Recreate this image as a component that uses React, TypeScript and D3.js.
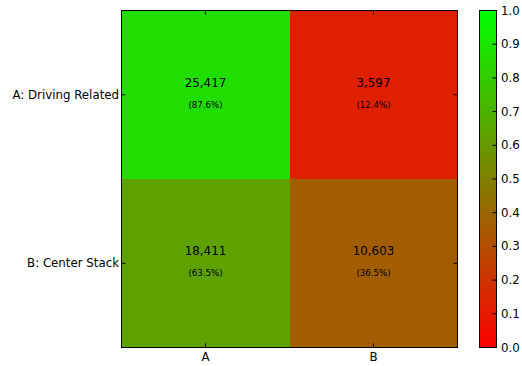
import React from "react";
import * as d3 from "d3";

// Confusion-matrix style heatmap with a red→green colorbar
const rowLabels = ["A: Driving Related", "B: Center Stack"];
const colLabels = ["A", "B"];
const countsRowA = [25417, 3597];
const countsRowB = [18411, 10603];
const counts = [countsRowA, countsRowB];
const colorbarTicks = [0, 0.1, 0.2, 0.3, 0.4, 0.5, 0.6, 0.7, 0.8, 0.9, 1.0];

const W = 522;
const H = 366;
const plot = { left: 121.5, top: 10.5, right: 457.5, bottom: 347.5 };
const cbar = { left: 479.5, right: 496.5, top: 10.5, bottom: 347.5 };
const FONT = "DejaVu Sans, sans-serif";
const TICK = 4;

export default function App() {
  const x = d3.scaleBand<string>().domain(colLabels).range([plot.left, plot.right]);
  const y = d3.scaleBand<string>().domain(rowLabels).range([plot.top, plot.bottom]);
  const color = d3.scaleLinear<string>().domain([0, 1]).range(["#ff0000", "#00ff00"]).interpolate(d3.interpolateRgb);
  const cy = d3.scaleLinear().domain([0, 1]).range([cbar.bottom, cbar.top]);
  const fmt = d3.format(",");
  const pct = d3.format(".1%");

  const cells = counts.flatMap((row, i) => {
    const total = d3.sum(row);
    return row.map((v, j) => ({ r: rowLabels[i], c: colLabels[j], v, frac: v / total }));
  });

  const gradStops = d3.range(0, 1.0001, 0.05);

  return (
    <svg width={W} height={H} style={{ position: "absolute", left: 0, top: 0 }} fontFamily={FONT}>
      <defs>
        <linearGradient id="cb" x1="0" y1="1" x2="0" y2="0">
          {gradStops.map((s) => (
            <stop key={s} offset={s} stopColor={color(s)} />
          ))}
        </linearGradient>
      </defs>
      <rect width={W} height={H} fill="#fff" />

      {cells.map((d) => {
        const x0 = x(d.c)!;
        const y0 = y(d.r)!;
        const cx = x0 + x.bandwidth() / 2;
        const cyy = y0 + y.bandwidth() / 2;
        return (
          <g key={d.r + d.c}>
            <rect
              x={x0}
              y={y0}
              width={x.bandwidth()}
              height={y.bandwidth()}
              fill={color(d.frac)}
              shapeRendering="crispEdges"
            />
            <text x={cx} y={cyy - 8} textAnchor="middle" fontSize={11.8} fill="#000">
              {fmt(d.v)}
            </text>
            <text x={cx} y={cyy + 13} textAnchor="middle" fontSize={8.6} fill="#000">
              ({pct(d.frac)})
            </text>
          </g>
        );
      })}

      {/* ticks, drawn inward */}
      {colLabels.map((c) => {
        const tx = x(c)! + x.bandwidth() / 2;
        return (
          <g key={c}>
            <line x1={tx} x2={tx} y1={plot.bottom} y2={plot.bottom - TICK} stroke="#000" />
            <line x1={tx} x2={tx} y1={plot.top} y2={plot.top + TICK} stroke="#000" />
            <text x={tx} y={360.5} textAnchor="middle" fontSize={11.8} fill="#000">
              {c}
            </text>
          </g>
        );
      })}
      {rowLabels.map((r) => {
        const ty = y(r)! + y.bandwidth() / 2;
        return (
          <g key={r}>
            <line x1={plot.left} x2={plot.left + TICK} y1={ty} y2={ty} stroke="#000" />
            <line x1={plot.right} x2={plot.right - TICK} y1={ty} y2={ty} stroke="#000" />
            <text x={119} y={ty} textAnchor="end" dominantBaseline="central" fontSize={11.8} fill="#000">
              {r}
            </text>
          </g>
        );
      })}
      <rect
        x={plot.left}
        y={plot.top}
        width={plot.right - plot.left}
        height={plot.bottom - plot.top}
        fill="none"
        stroke="#000"
      />

      {/* colorbar */}
      <rect
        x={cbar.left}
        y={cbar.top}
        width={cbar.right - cbar.left}
        height={cbar.bottom - cbar.top}
        fill="url(#cb)"
        stroke="#000"
      />
      {colorbarTicks.map((t) => (
        <g key={t}>
          <line x1={cbar.right} x2={cbar.right - TICK} y1={cy(t)} y2={cy(t)} stroke="#000" />
          <text x={501} y={cy(t)} dominantBaseline="central" fontSize={11.8} fill="#000">
            {d3.format(".1f")(t)}
          </text>
        </g>
      ))}
    </svg>
  );
}
